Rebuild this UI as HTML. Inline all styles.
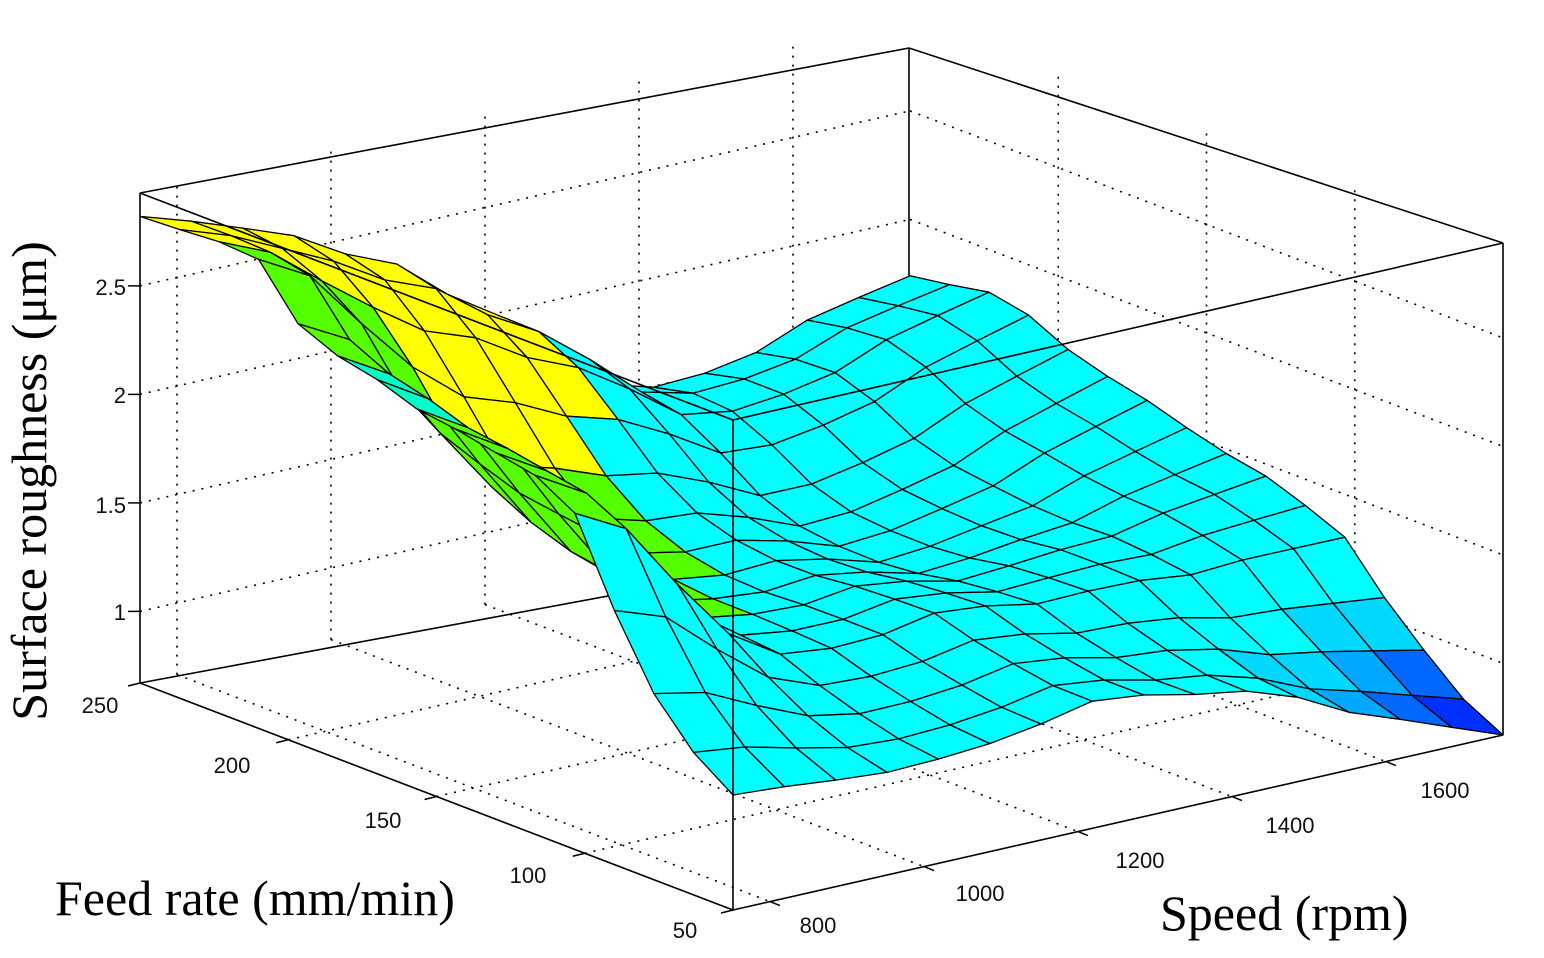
<!DOCTYPE html>
<html><head><meta charset="utf-8">
<style>
html,body{margin:0;padding:0;background:#fff;}
svg{display:block;}
.t{font-family:"Liberation Sans",Arial,sans-serif;font-size:22px;fill:#111;}
.ti{font-family:"Liberation Serif","Times New Roman",serif;font-size:50px;fill:#000;}
</style></head><body>
<svg id="s" width="1544" height="958" viewBox="0 0 1544 958" xmlns="http://www.w3.org/2000/svg">
<rect width="1544" height="958" fill="#fff"/>
<g id="grid" stroke="#000" stroke-width="1.6" stroke-dasharray="2 7" fill="none"></g>
<g id="back" stroke="#000" stroke-width="1.6" fill="none">
<line x1="140" y1="683" x2="909" y2="540"/>
<line x1="909" y1="540" x2="1503" y2="735"/>
<line x1="909" y1="48" x2="909" y2="540"/>
</g>
<g id="surf" stroke="#000" stroke-width="1.3" stroke-linejoin="round"></g>
<g id="front" stroke="#000" stroke-width="1.6" fill="none">
<line x1="140" y1="193" x2="909" y2="48"/>
<line x1="909" y1="48" x2="1503" y2="243"/>
<line x1="140" y1="193" x2="733" y2="420"/>
<line x1="733" y1="420" x2="1503" y2="243"/>
<line x1="140" y1="193" x2="140" y2="683"/>
<line x1="1503" y1="243" x2="1503" y2="735"/>
<line x1="733" y1="420" x2="733" y2="910"/>
<line x1="140" y1="683" x2="733" y2="910"/>
<line x1="733" y1="910" x2="1503" y2="735"/>
</g>
<g id="ticks" stroke="#000" stroke-width="1.5"></g>
<text class="t" x="126" y="295" text-anchor="end">2.5</text>
<text class="t" x="126" y="403" text-anchor="end">2</text>
<text class="t" x="126" y="513" text-anchor="end">1.5</text>
<text class="t" x="126" y="620" text-anchor="end">1</text>
<text class="t" x="100" y="713" text-anchor="middle">250</text>
<text class="t" x="232" y="773" text-anchor="middle">200</text>
<text class="t" x="383" y="828" text-anchor="middle">150</text>
<text class="t" x="528" y="883" text-anchor="middle">100</text>
<text class="t" x="685" y="938" text-anchor="middle">50</text>
<text class="t" x="818" y="933" text-anchor="middle">800</text>
<text class="t" x="980" y="901" text-anchor="middle">1000</text>
<text class="t" x="1140" y="868" text-anchor="middle">1200</text>
<text class="t" x="1290" y="833" text-anchor="middle">1400</text>
<text class="t" x="1445" y="798" text-anchor="middle">1600</text>
<text class="ti" transform="translate(46,481) rotate(-90)" text-anchor="middle">Surface roughness (μm)</text>
<text class="ti" x="55" y="915">Feed rate (mm/min)</text>
<text class="ti" x="1160" y="930">Speed (rpm)</text>
</svg>
<script>
(function(){
var NS="http://www.w3.org/2000/svg";
var L=[140,683],DU=[593,227],DV=[770,-175],K=217,Z0=0.67;
function P(u,v,z){return [L[0]+u*DU[0]+v*DV[0], L[1]+u*DU[1]+v*DV[1]-(z-Z0)*K];}
function mk(pts){return function(t){for(var i=1;i<pts.length;i++){if(t<=pts[i][0]){var a=pts[i-1],b=pts[i];var s=(t-a[0])/(b[0]-a[0]);s=(1-Math.cos(Math.PI*s))/2*0.5+s*0.5;return a[1]+(b[1]-a[1])*s;}}return pts[pts.length-1][1];};}
var e0=mk([[0,2.82],[.19,2.85],[.29,2.55],[.38,2.5],[.47,2.42],[.71,2.31],[.81,1.81],[.86,1.54],[.93,1.33],[1,1.2]]);
var e1=mk([[0,1.74],[.153,1.81],[.32,1.63],[.574,1.46],[.709,1.35],[.827,1.04],[.91,.79],[1,.67]]);
var g0=mk([[0,2.82],[.146,2.65],[.306,2.38],[.464,1.99],[.571,1.69],[.619,1.49],[.771,1.51],[.858,1.64],[1,1.74]]);
var g1=mk([[0,1.2],[.217,1.14],[.347,1.17],[.477,1.26],[.67,1.14],[.866,.85],[1,.67]]);
function eL(u){return 1.2+1.62*Math.exp(-Math.pow(u/0.25,2));}
var z00=2.82,z10=1.2,z01=1.74,z11=.67;
function B(u,v){return (1-v)*eL(u)+v*e1(u)+(1-u)*g0(v)+u*g1(v)-((1-u)*(1-v)*z00+u*(1-v)*z10+(1-u)*v*z01+u*v*z11);}
function Z(u,v){return B(u,v)+(e0(u)-eL(u))*Math.exp(-Math.pow(v/0.17,2));}
function col(z,u,v,cx){
 if(u<0.73 && v<0.5-0.3*u){
   if(u<0.12) return "#ffff00";
   if(cx<600 && v>=0.17) return "#ffff00";
   if(cx<720){ if(v<0.05 && u>0.33 && u<0.5) return "#00ffc8"; return "#55ff00"; }
 }
 if(z>=2.45)return"#ffff00";if(z>=2.25)return"#55ff00";if(z>=2.0)return"#00ffc8";
 if(z>=1.08)return"#00ffff";if(z>=0.98)return"#00d8ff";if(z>=0.9)return"#00a8ff";
 if(z>=0.82)return"#0068ff";if(z>=0.74)return"#0030ff";return"#0000ee";}
var N=15,faces=[];
for(var i=0;i<N;i++)for(var j=0;j<N;j++){
 var u0=i/N,u1=(i+1)/N,v0=j/N,v1=(j+1)/N;
 var c=[[u0,v0],[u1,v0],[u1,v1],[u0,v1]];var zs=c.map(function(p){return Z(p[0],p[1]);});
 var pts=c.map(function(p,k){return P(p[0],p[1],zs[k]);});
 var zm=(zs[0]+zs[1]+zs[2]+zs[3])/4,um=(u0+u1)/2,vm=(v0+v1)/2;
 var cx=(pts[0][0]+pts[1][0]+pts[2][0]+pts[3][0])/4;
 faces.push({d:770*um+593*(1-vm)+60*zm,pts:pts,c:col(zm,um,vm,cx)});}
faces.sort(function(a,b){return a.d-b.d;});
var g=document.getElementById("surf");
faces.forEach(function(f){var p=document.createElementNS(NS,"polygon");
 p.setAttribute("points",f.pts.map(function(q){return q[0].toFixed(1)+","+q[1].toFixed(1);}).join(" "));
 p.setAttribute("fill",f.c);g.appendChild(p);});
var gr=document.getElementById("grid");
function ln(par,a,b){var l=document.createElementNS(NS,"line");l.setAttribute("x1",a[0]);l.setAttribute("y1",a[1]);l.setAttribute("x2",b[0]);l.setAttribute("y2",b[1]);par.appendChild(l);}
var zt=[1,1.5,2,2.5],top=2.93;
zt.forEach(function(z){ln(gr,P(0,0,z),P(0,1,z));ln(gr,P(0,1,z),P(1,1,z));});
var vt=[800,1000,1200,1400,1600].map(function(s){return 0.048+(s-800)*0.001;});
var ut=[.25,.5,.75];
vt.forEach(function(v){ln(gr,P(0,v,Z0),P(0,v,top));ln(gr,P(0,v,Z0),P(1,v,Z0));});
ut.forEach(function(u){ln(gr,P(u,1,Z0),P(u,1,top));ln(gr,P(u,0,Z0),P(u,1,Z0));});
var tk=document.getElementById("ticks");
zt.forEach(function(z){var a=P(0,0,z);ln(tk,[a[0]-12,a[1]],a);});
[0,.25,.5,.75,1].forEach(function(u){var a=P(u,0,Z0);ln(tk,a,[a[0]-12,a[1]+3]);});
vt.forEach(function(v){var a=P(1,v,Z0);ln(tk,a,[a[0]+10,a[1]+4]);});
})();
</script>
</body></html>
